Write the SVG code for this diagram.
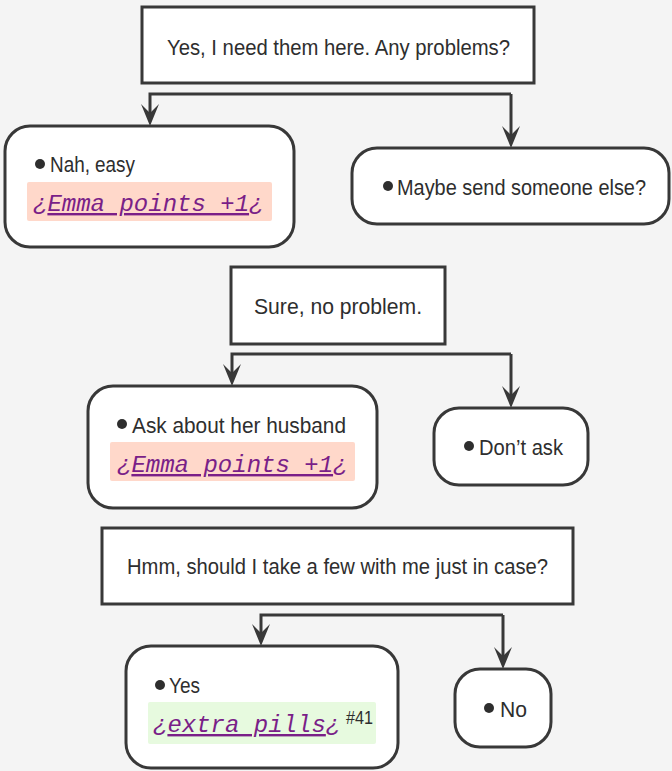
<svg xmlns="http://www.w3.org/2000/svg" width="672" height="771" viewBox="0 0 672 771">
<style>
.bg{fill:#f4f4f4}
.box{fill:#ffffff;stroke:#383838;stroke-width:3}
.t{font-family:"Liberation Sans",Arial,sans-serif;font-size:22px;fill:#2e2e2e}
.c{stroke:#383838;stroke-width:3;fill:none;stroke-linejoin:miter}
.dot{fill:#2e2e2e}
.m{font-family:"Liberation Mono","Courier New",monospace;font-style:italic;font-size:24px;fill:#7a1f88}
.hl-pink{fill:#ffd8ca}
.hl-green{fill:#e7fadf}
.sup{font-family:"Liberation Sans",Arial,sans-serif;font-size:18px;fill:#2e2e2e}
</style>
<defs>
<marker id="arr" markerUnits="userSpaceOnUse" viewBox="-13 -10 24 20" markerWidth="24" markerHeight="20" refX="0" refY="0" orient="auto">
<path d="M10,0 L-12,-9 L-3,0 L-12,9 Z" fill="#383838"/>
</marker>
</defs>
<rect class="bg" x="0" y="0" width="672" height="771"/>

<g id="connectors">
<path class="c" d="M511,94 H150 V116" marker-end="url(#arr)"/>
<path class="c" d="M511,94 V138" marker-end="url(#arr)"/>
<path class="c" d="M511,354 H232 V376" marker-end="url(#arr)"/>
<path class="c" d="M511,354 V398" marker-end="url(#arr)"/>
<path class="c" d="M503,615 H261 V636" marker-end="url(#arr)"/>
<path class="c" d="M503,615 V659" marker-end="url(#arr)"/>
</g>

<g id="q1">
<rect class="box" x="142" y="7" width="392" height="76"/>
<text class="t" x="167" y="55" textLength="343" lengthAdjust="spacingAndGlyphs">Yes, I need them here. Any problems?</text>
</g>

<g id="a1">
<rect class="box" x="5" y="126" width="289" height="121" rx="25" ry="25"/>
<circle class="dot" cx="40" cy="164" r="5"/>
<text class="t" x="50" y="172" textLength="85" lengthAdjust="spacingAndGlyphs">Nah, easy</text>
<rect class="hl-pink" x="27" y="182" width="245" height="39" rx="2"/>
<text class="m" x="33" y="211">¿<tspan text-decoration="underline">Emma points +1</tspan>¿</text>
</g>

<g id="a2">
<rect class="box" x="352" y="148" width="317" height="76" rx="25" ry="25"/>
<circle class="dot" cx="388" cy="186" r="5"/>
<text class="t" x="397" y="195" textLength="249" lengthAdjust="spacingAndGlyphs">Maybe send someone else?</text>
</g>

<g id="q2">
<rect class="box" x="231" y="267" width="214" height="77"/>
<text class="t" x="254" y="314" textLength="168" lengthAdjust="spacingAndGlyphs">Sure, no problem.</text>
</g>

<g id="a3">
<rect class="box" x="88" y="386" width="289" height="122" rx="25" ry="25"/>
<circle class="dot" cx="122" cy="424" r="5"/>
<text class="t" x="132" y="433" textLength="214" lengthAdjust="spacingAndGlyphs">Ask about her husband</text>
<rect class="hl-pink" x="110" y="442" width="245" height="39" rx="2"/>
<text class="m" x="117" y="472">¿<tspan text-decoration="underline">Emma points +1</tspan>¿</text>
</g>

<g id="a4">
<rect class="box" x="434" y="408" width="154" height="77" rx="25" ry="25"/>
<circle class="dot" cx="469" cy="446" r="5"/>
<text class="t" x="479" y="455" textLength="84" lengthAdjust="spacingAndGlyphs">Don’t ask</text>
</g>

<g id="q3">
<rect class="box" x="102" y="528" width="471" height="76"/>
<text class="t" x="127" y="574" textLength="421" lengthAdjust="spacingAndGlyphs">Hmm, should I take a few with me just in case?</text>
</g>

<g id="a5">
<rect class="box" x="126" y="646" width="272" height="122" rx="25" ry="25"/>
<circle class="dot" cx="160" cy="685" r="5"/>
<text class="t" x="169" y="693" textLength="31" lengthAdjust="spacingAndGlyphs">Yes</text>
<rect class="hl-green" x="148" y="702" width="228" height="42" rx="2"/>
<text class="m" x="153" y="732">¿<tspan text-decoration="underline">extra pills</tspan>¿</text>
<text class="sup" x="346" y="724" textLength="27" lengthAdjust="spacingAndGlyphs">#41</text>
</g>

<g id="a6">
<rect class="box" x="455" y="669" width="96" height="78" rx="25" ry="25"/>
<circle class="dot" cx="489" cy="708" r="5"/>
<text class="t" x="500" y="717" textLength="27" lengthAdjust="spacingAndGlyphs">No</text>
</g>
</svg>
